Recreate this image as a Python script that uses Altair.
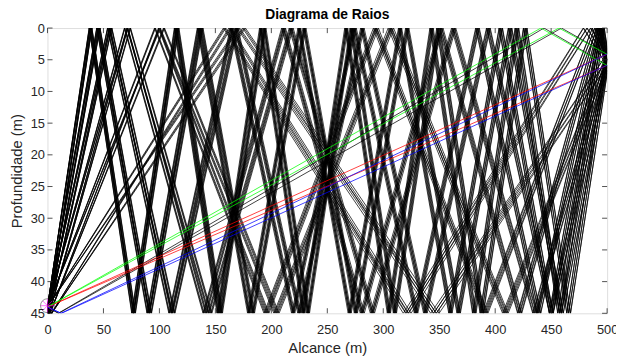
import altair as alt
import pandas as pd
import math

# --- scene ---
range_max = 500.0          # m
water_depth = 45.0         # m
source_depth = 44.0        # m

# launch angles (deg, + = downward) of the plotted eigenray bundles
launch_angles = [
    -4.36, -4.56, -5.50, -5.70,
    -14.37, -14.47, -14.57, -15.44, -15.54, -15.64,
    -23.56, -23.66, -23.76, -24.51, -24.61, -24.71,
    -31.62, -31.72, -31.82, -32.44, -32.54, -32.64,
    -38.48, -38.58, -38.68, -39.18, -39.28, -39.38,
    -44.26, -44.36, -44.46, -44.84, -44.94, -45.04,
    -49.08, -49.18, -49.28, -49.58, -49.68, -49.78,
    4.59, 4.79, 5.72, 5.92,
    14.58, 14.68, 14.78, 15.65, 15.75, 15.85,
    23.74, 23.84, 23.94, 24.70, 24.80, 24.90,
    31.78, 31.88, 31.98, 32.60, 32.70, 32.80,
    38.62, 38.72, 38.82, 39.32, 39.42, 39.52,
    44.38, 44.48, 44.58, 44.96, 45.06, 45.16,
    49.18, 49.28, 49.38, 49.67, 49.77, 49.87,
]

x_ticks = [0, 50, 100, 150, 200, 250, 300, 350, 400, 450, 500]
y_ticks = [0, 5, 10, 15, 20, 25, 30, 35, 40, 45]

rows = []
for rid, ang in enumerate(launch_angles):
    slope = math.tan(math.radians(ang))
    x, z = 0.0, source_depth
    pts = [(x, z)]
    n_sur = n_bot = 0
    while True:
        if slope > 0:
            xn = x + (water_depth - z) / slope
            zn = water_depth
        else:
            xn = x + z / (-slope)
            zn = 0.0
        if xn >= range_max:
            pts.append((range_max, z + slope * (range_max - x)))
            break
        pts.append((xn, zn))
        if zn == 0.0:
            n_sur += 1
        else:
            n_bot += 1
        x, z = xn, zn
        slope = -slope
    if n_sur == 0 and n_bot == 0:
        kind = "direct"
    elif n_bot == 0:
        kind = "surface"
    elif n_sur == 0:
        kind = "bottom"
    else:
        kind = "both"
    for i, (px, pz) in enumerate(pts):
        rows.append({"ray": rid, "seq": i, "x": px, "z": pz, "kind": kind})

df = pd.DataFrame(rows)

axis_col = "#262626"
xs = alt.Scale(domain=[0, 500], nice=False, zero=False)
ys = alt.Scale(domain=[0, 45], nice=False, zero=False, reverse=True)

x_axis = alt.Axis(values=x_ticks, title="Alcance (m)", ticks=False, domain=False,
                  grid=False, labelFontSize=13, titleFontSize=15, labelColor=axis_col,
                  titleColor=axis_col, labelFont="Liberation Sans", titleFont="Liberation Sans",
                  titleFontWeight="normal", labelPadding=10, titlePadding=5,
                  labelOverlap=False, labelFlush=False)
y_axis = alt.Axis(values=y_ticks, title="Profundidade (m)", ticks=False, domain=False,
                  grid=False, labelFontSize=13, titleFontSize=15, labelColor=axis_col,
                  titleColor=axis_col, labelFont="Liberation Sans", titleFont="Liberation Sans",
                  titleFontWeight="normal", labelPadding=3, titlePadding=6,
                  labelOverlap=False, labelFlush=False)

kinds = ["both", "direct", "surface", "bottom"]
colors = ["#000000", "#ff0000", "#00ff00", "#0000ff"]

base = alt.Chart(df).mark_line(strokeWidth=0.75, clip=True).encode(
    x=alt.X("x:Q", scale=xs, axis=x_axis),
    y=alt.Y("z:Q", scale=ys, axis=y_axis),
    detail="ray:N",
    order="seq:Q",
    color=alt.Color("kind:N", scale=alt.Scale(domain=kinds, range=colors), legend=None),
)
black = base.transform_filter(alt.datum.kind == "both")
colored = base.transform_filter(alt.datum.kind != "both")

# inward ticks (MATLAB box style)
tick_len_x = 0.8   # m (about 5 px)
tick_len_y = 4.5   # m (about 5 px)
tx = pd.DataFrame({"x": x_ticks})
ty = pd.DataFrame({"y": y_ticks})
rule_kw = dict(color=axis_col, strokeWidth=0.8)
bt = alt.Chart(tx).mark_rule(**rule_kw).encode(
    x=alt.X("x:Q", scale=xs, axis=x_axis), y=alt.datum(45, scale=ys, axis=y_axis),
    y2=alt.datum(45 - tick_len_x))
tt = alt.Chart(tx).mark_rule(**rule_kw).encode(
    x=alt.X("x:Q", scale=xs, axis=x_axis), y=alt.datum(0, scale=ys, axis=y_axis),
    y2=alt.datum(tick_len_x))
lt = alt.Chart(ty).mark_rule(**rule_kw).encode(
    y=alt.Y("y:Q", scale=ys, axis=y_axis), x=alt.datum(0, scale=xs, axis=x_axis),
    x2=alt.datum(tick_len_y))
rt = alt.Chart(ty).mark_rule(**rule_kw).encode(
    y=alt.Y("y:Q", scale=ys, axis=y_axis), x=alt.datum(500, scale=xs, axis=x_axis),
    x2=alt.datum(500 - tick_len_y))

src = pd.DataFrame({"x": [0.0], "z": [43.8]})
src_circle = alt.Chart(src).mark_point(shape="circle", size=200, color="black",
                                       filled=False, strokeWidth=0.6).encode(
    x=alt.X("x:Q", scale=xs, axis=x_axis), y=alt.Y("z:Q", scale=ys, axis=y_axis))
src_star = alt.Chart(src).mark_point(
    shape="M-1,0L1,0M0,-1L0,1M-0.7,-0.7L0.7,0.7M-0.7,0.7L0.7,-0.7",
    size=200, color="#ff00ff", filled=False, strokeWidth=0.8).encode(
    x=alt.X("x:Q", scale=xs, axis=x_axis), y=alt.Y("z:Q", scale=ys, axis=y_axis))

chart = alt.layer(black, colored, bt, tt, lt, rt, src_star, src_circle).properties(
    width=567, height=289,
    title=alt.Title("Diagrama de Raios", fontSize=14, fontWeight="bold",
                    font="Liberation Sans", color="black", offset=6, frame="group", dy=6),
    autosize=alt.AutoSizeParams(type="none"),
    padding={"left": 40, "top": 18, "right": 9, "bottom": 46},
).configure_view(stroke=axis_col, strokeWidth=1).configure(background="white")

chart.save("out.html", embed_options={"renderer": "svg", "actions": False})
